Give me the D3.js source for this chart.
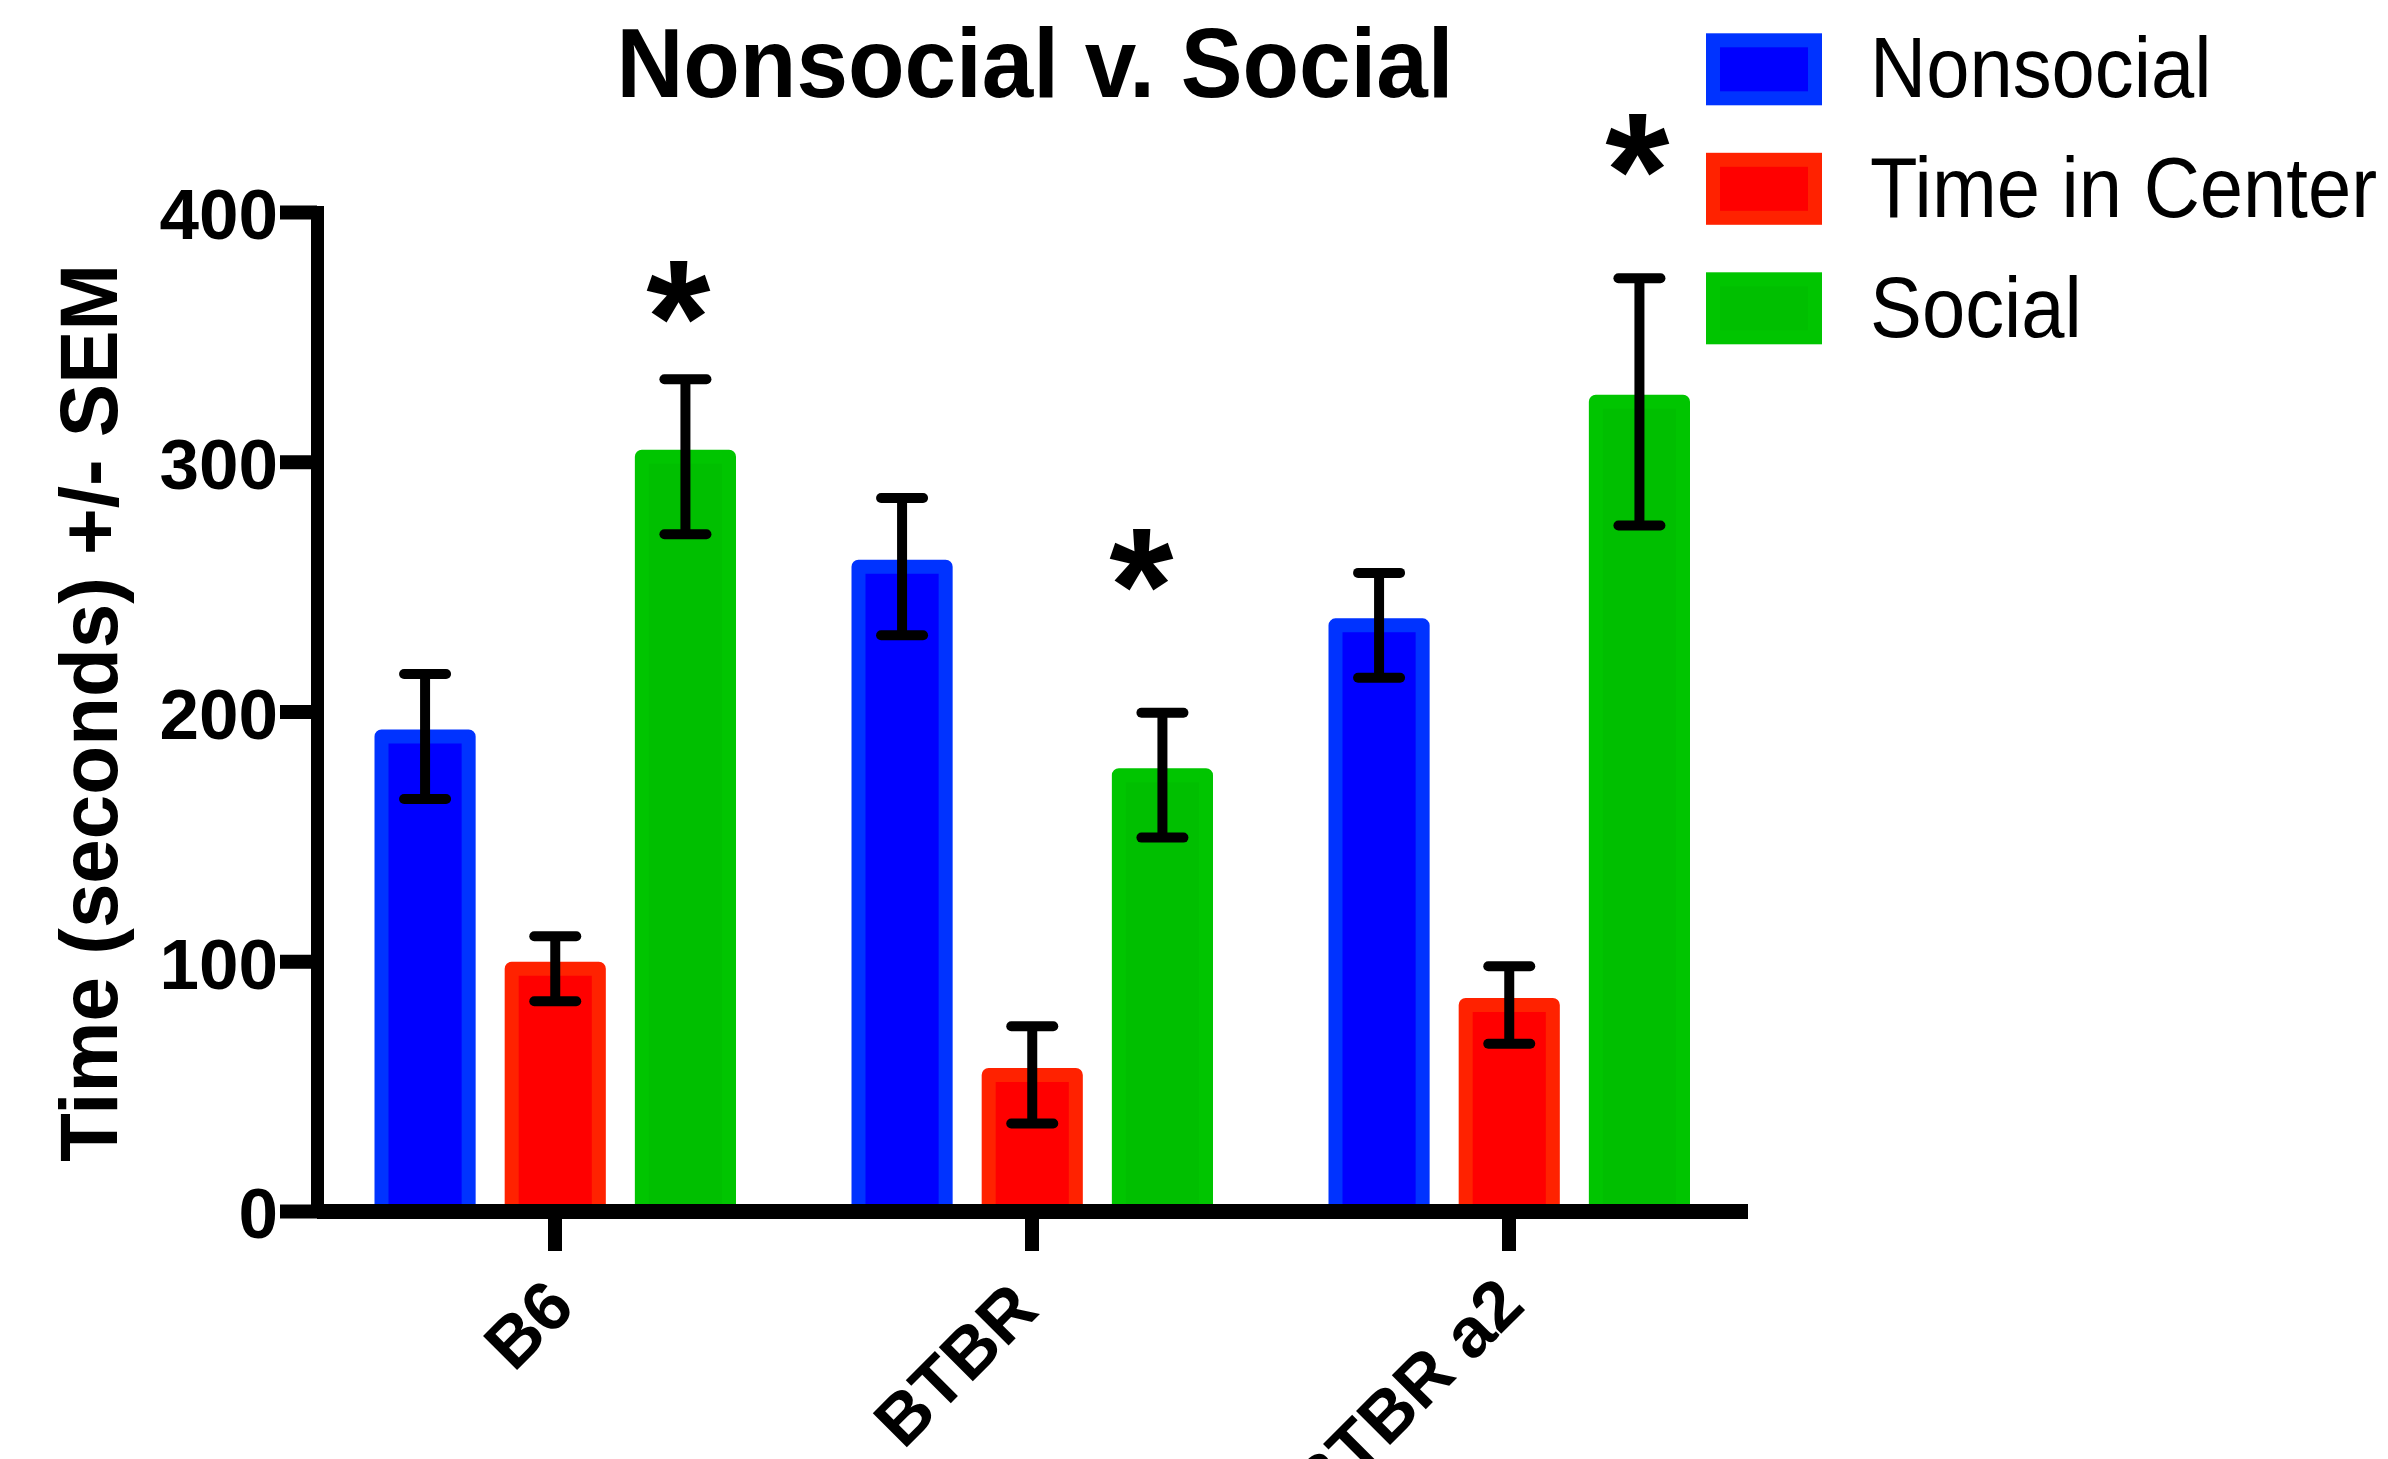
<!DOCTYPE html>
<html><head><meta charset="utf-8">
<script src="https://cdn.jsdelivr.net/npm/d3@7"></script>
<style>body{margin:0;background:#fff} svg{display:block}</style>
</head><body>
<svg id="chart" width="2388" height="1459"></svg>
<script>
// ---- data ----
const categories = ["B6", "BTBR", "BTBR a2"];
const seriesNames = ["Nonsocial", "Time in Center", "Social"];
const nonsocialMean = [190, 258, 234.5];
const nonsocialSEM  = [25, 27.5, 21];
const centerMean    = [97, 54.5, 82.5];
const centerSEM     = [13, 19.5, 15.5];
const socialMean    = [302, 174.5, 324];
const socialSEM     = [31, 25, 49.5];
const yTicks = [0, 100, 200, 300, 400];
const sigCategories = ["B6", "BTBR", "BTBR a2"];
const sigLevels = [371, 264, 430];
const titleText = "Nonsocial v. Social";
const yLabelText = "Time (seconds) +/- SEM";

// ---- setup ----
const means = [nonsocialMean, centerMean, socialMean];
const sems = [nonsocialSEM, centerSEM, socialSEM];
const colors = {
  "Nonsocial": {fill: "#0000FF", stroke: "#0033FF"},
  "Time in Center": {fill: "#FF0000", stroke: "#FF2200"},
  "Social": {fill: "#00BF00", stroke: "#00C500"}
};
const FONT = "'Liberation Sans', Arial, Helvetica, sans-serif";
const svg = d3.select("#chart");

const y = d3.scaleLinear().domain([0, 400]).range([1211, 212]);
const x0 = d3.scaleBand().domain(categories).range([316.5, 1747.5]).padding(0);
const x1 = d3.scaleBand().domain(seriesNames).range([58, 419.5]).paddingInner(0.223).paddingOuter(0);
const BORDER = 14;

const table = categories.flatMap((c, i) => seriesNames.map((s, j) => ({
  category: c, series: s, mean: means[j][i], sem: sems[j][i]
})));
const cx = d => x0(d.category) + x1(d.series) + x1.bandwidth() / 2;

function squeeze(sel, f) {
  sel.each(function() {
    const L = this.getComputedTextLength();
    d3.select(this).attr("textLength", L * f).attr("lengthAdjust", "spacingAndGlyphs");
  });
}

// bars
svg.append("g").selectAll("rect").data(table).join("rect")
  .attr("x", d => x0(d.category) + x1(d.series) + BORDER / 2)
  .attr("width", x1.bandwidth() - BORDER)
  .attr("y", d => y(d.mean))
  .attr("height", d => y(0) - y(d.mean))
  .attr("fill", d => colors[d.series].fill)
  .attr("stroke", d => colors[d.series].stroke)
  .attr("stroke-width", BORDER)
  .attr("stroke-linejoin", "round");

// error bars
const eb = svg.append("g").attr("stroke", "#000").attr("fill", "none");
eb.selectAll("line.v").data(table).join("line").attr("class", "v")
  .attr("x1", cx).attr("x2", cx)
  .attr("y1", d => y(d.mean + d.sem)).attr("y2", d => y(d.mean - d.sem))
  .attr("stroke-width", 10);
eb.selectAll("line.ct").data(table).join("line").attr("class", "ct")
  .attr("x1", d => cx(d) - 21).attr("x2", d => cx(d) + 21)
  .attr("y1", d => y(d.mean + d.sem)).attr("y2", d => y(d.mean + d.sem))
  .attr("stroke-width", 10).attr("stroke-linecap", "round");
eb.selectAll("line.cb").data(table).join("line").attr("class", "cb")
  .attr("x1", d => cx(d) - 21).attr("x2", d => cx(d) + 21)
  .attr("y1", d => y(d.mean - d.sem)).attr("y2", d => y(d.mean - d.sem))
  .attr("stroke-width", 10).attr("stroke-linecap", "round");

// x axis
const labelOffset = [[22, 99], [9, 102], [18, 97]];
const gx = svg.append("g").attr("transform", `translate(0,${y(0)})`)
  .call(d3.axisBottom(x0).tickSize(40).tickSizeOuter(0));
gx.select(".domain").attr("stroke", "#000").attr("stroke-width", 15);
gx.selectAll(".tick line").attr("stroke", "#000").attr("stroke-width", 14);
gx.selectAll(".tick text")
  .attr("x", null).attr("y", null).attr("dy", null)
  .attr("transform", (d, i) => `translate(${labelOffset[i][0]},${labelOffset[i][1]}) rotate(-45)`)
  .attr("text-anchor", "end")
  .attr("fill", "#000")
  .style("font-family", FONT).style("font-weight", "bold").style("font-size", "70px");

// y axis
const gy = svg.append("g").attr("transform", "translate(317,0)")
  .call(d3.axisLeft(y).tickValues(yTicks).tickSize(37).tickSizeOuter(0).tickPadding(2).tickFormat(d3.format("d")));
gy.select(".domain").attr("stroke", "#000").attr("stroke-width", 13).attr("stroke-linecap", "square");
gy.selectAll(".tick line").attr("stroke", "#000").attr("stroke-width", 14);
gy.selectAll(".tick text")
  .attr("dy", "0.38em").attr("fill", "#000")
  .style("font-family", FONT).style("font-weight", "bold").style("font-size", "71px");

// y label
svg.append("text")
  .attr("transform", "translate(117,713) rotate(-90)")
  .attr("text-anchor", "middle")
  .style("font-family", FONT).style("font-weight", "bold").style("font-size", "82px")
  .text(yLabelText).call(squeeze, 0.975);

// title
svg.append("text")
  .attr("x", 1035).attr("y", 97)
  .attr("text-anchor", "middle")
  .style("font-family", FONT).style("font-weight", "bold").style("font-size", "98px")
  .text(titleText).call(squeeze, 0.945);

// significance asterisks
const sigDx = [-7, -21, -2];
svg.append("g").selectAll("text").data(sigCategories).join("text")
  .attr("x", (c, i) => x0(c) + x1("Social") + x1.bandwidth() / 2 + sigDx[i])
  .attr("y", (c, i) => y(sigLevels[i]) + 91)
  .attr("text-anchor", "middle")
  .style("font-family", FONT).style("font-weight", "bold").style("font-size", "165px")
  .text("*");

// legend
const lg = svg.append("g");
seriesNames.forEach((s, i) => {
  lg.append("rect")
    .attr("x", 1713).attr("y", 40.3 + 119.5 * i).attr("width", 102).attr("height", 58)
    .attr("fill", colors[s].fill).attr("stroke", colors[s].stroke).attr("stroke-width", BORDER);
  lg.append("text")
    .attr("x", 1870).attr("y", 97.3 + 119.7 * i)
    .style("font-family", FONT).style("font-size", "85px")
    .text(s).call(squeeze, 0.915);
});
</script>
</body></html>
